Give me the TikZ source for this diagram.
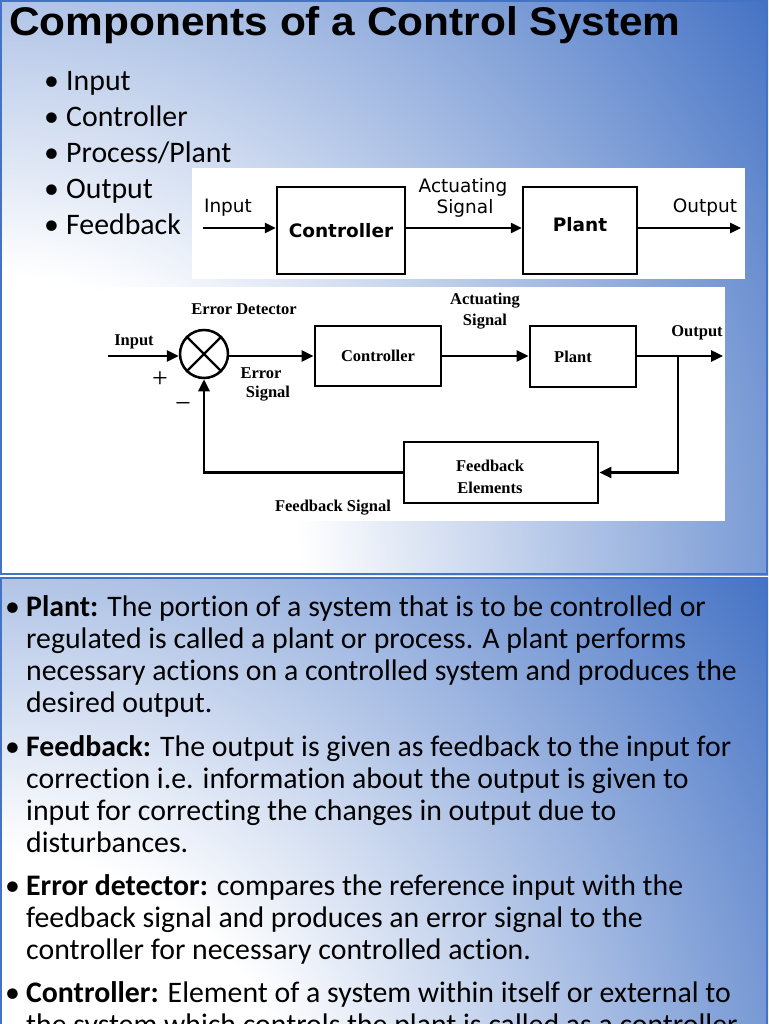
\documentclass[tikz,border=0pt]{standalone}
\usepackage{graphicx}
\usepackage{fontspec}
\setmainfont{Carlito}[Ligatures={NoCommon}]
\newfontfamily\titlefont{Liberation Sans}
\newfontfamily\verdfont{DejaVu Sans}
\newfontfamily\timesfont{Liberation Serif}
\usetikzlibrary{arrows.meta}
\definecolor{accent}{HTML}{4472C4}
\pgfdeclareradialshading{slidebg}{\pgfpointorigin}{color(0bp)=(white); color(7.8bp)=(white); color(25bp)=(accent); color(50bp)=(accent)}
\begin{document}
\begin{tikzpicture}[x=1pt,y=-1pt,
  body/.style={anchor=base west, inner sep=0pt, font=\fontsize{29.8}{32}\selectfont},
  d1txt/.style={inner sep=0pt, font=\verdfont\fontsize{18.5}{22}\selectfont},
  d1box/.style={draw, line width=2.5pt, inner sep=0pt, font=\verdfont\bfseries\fontsize{18.5}{22}\selectfont},
  d1arr/.style={line width=2.5pt, -{Triangle[length=11pt,width=10pt]}},
  d2txt/.style={inner sep=0pt, font=\timesfont\bfseries\fontsize{16.5}{20}\selectfont},
  d2box/.style={draw, line width=2.8pt, inner sep=0pt, font=\timesfont\bfseries\fontsize{16.5}{20}\selectfont},
  d2arr/.style={line width=2.8pt, -{Triangle[length=12pt,width=11pt]}},
  sign/.style={inner sep=0pt, font=\timesfont\fontsize{28}{30}\selectfont}
]
\useasboundingbox (0,0) rectangle (768,1024);
\fill[white] (0,0) rectangle (768,1024);
% ---------- slide 1 background
\begin{scope}
  \clip (0,0) rectangle (768,575);
  \shade[shading=slidebg] (0,575) circle[radius=960pt];
\end{scope}
\draw[accent, line width=2pt] (1,1) rectangle (767,574);
% ---------- slide 2 background
\begin{scope}
  \clip (0,577) rectangle (768,1153);
  \shade[shading=slidebg] (0,1153) circle[radius=960pt];
\end{scope}
\draw[accent, line width=2pt] (1,578) rectangle (767,1152);

% ---------- title and bullets
\node[anchor=base west, inner sep=0pt, font=\titlefont\bfseries\fontsize{40}{44}\selectfont] (title) at (9,36) {\scalebox{1.06}[1]{Components of a Control System}};
\node[body] (b1) at (44,91) {•};  \node[body] (t1) at (66,91) {Input};
\node[body] (b2) at (44,127) {•}; \node[body] (t2) at (66,127) {Controller};
\node[body] (b3) at (44,163) {•}; \node[body] (t3) at (66,163) {Process/Plant};
\node[body] (b4) at (44,199) {•}; \node[body] (t4) at (66,199) {Output};
\node[body] (b5) at (44,235) {•}; \node[body] (t5) at (66,235) {Feedback};

% ---------- diagram 1
\fill[white] (192,168) rectangle (745,279);
\coordinate (in1) at (203,228);
\coordinate (out1) at (741,228);
\node[d1box, minimum width=128pt, minimum height=87pt] (ctrl1) at (341,230.5) {Controller};
\node[d1box, minimum width=114pt, minimum height=87pt, text depth=12pt] (plant1) at (580,230.5) {Plant};
\draw[d1arr] (in1) -- (in1 -| ctrl1.west);
\draw[d1arr] (ctrl1.east |- in1) -- (in1 -| plant1.west);
\draw[d1arr] (plant1.east |- in1) -- (out1);
\node[d1txt] (lin1) at (228,208) {Input};
\node[d1txt] (lact1) at (463,187) {Actuating};
\node[d1txt] (lsig1) at (465,208) {Signal};
\node[d1txt] (lout1) at (705,208) {Output};

% ---------- diagram 2
\fill[white] (107,287) rectangle (725,521);
\coordinate (in2) at (108,356);
\coordinate (out2) at (723,356);
\coordinate (br) at (678,356);
\node[draw, circle, line width=2.5pt, minimum size=48pt, inner sep=0pt] (sum) at (204,354) {};
\draw[line width=2.2pt] (sum.north west) -- (sum.south east);
\draw[line width=2.2pt] (sum.north east) -- (sum.south west);
\node[d2box, minimum width=126pt, minimum height=60pt] (ctrl2) at (378,356) {Controller};
\node[d2box, minimum width=106pt, minimum height=61pt, label={[d2txt, xshift=-10pt]center:Plant}] (plant2) at (583,356.5) {};
\node[d2box, minimum width=194pt, minimum height=61pt, label={[d2txt, align=center, xshift=-11pt, yshift=-4pt]center:Feedback\\[2pt]Elements}] (fb) at (501,472.5) {};
\draw[d2arr] (in2) -- (in2 -| sum.west);
\draw[d2arr] (sum.east |- in2) -- (in2 -| ctrl2.west);
\draw[d2arr] (ctrl2.east |- in2) -- (in2 -| plant2.west);
\draw[d2arr] (plant2.east |- in2) -- (out2);
\draw[d2arr] (br) |- (fb.east);
\draw[d2arr] (fb.west) -| (sum.south);
\node[d2txt] (lin2) at (134,342) {Input};
\node[d2txt] (led) at (244,309) {Error Detector};
\node[d2txt] (lerr) at (261,373) {Error};
\node[d2txt] (lesig) at (268,394) {Signal};
\node[d2txt] (lact2) at (485,301) {Actuating};
\node[d2txt] (lsig2) at (485,322) {Signal};
\node[d2txt] (lout2) at (697,333) {Output};
\node[d2txt] (lfs) at (333,508) {Feedback Signal};
\node[sign] (plus) at (160,380) {+};
\node[sign] (minus) at (183,408) {−};

% ---------- slide 2 text
\node[body] (c1b) at (5,616) {•};
\node[body] (c1) at (26,616) {\textbf{Plant:} The portion of a system that is to be controlled or};
\node[body] (c2) at (26,648) {regulated is called a plant or process. A plant performs};
\node[body] (c3) at (26,680) {necessary actions on a controlled system and produces the};
\node[body] (c4) at (26,712) {desired output.};
\node[body] (c5b) at (5,756) {•};
\node[body] (c5) at (26,756) {\textbf{Feedback:} The output is given as feedback to the input for};
\node[body] (c6) at (26,788) {correction i.e. information about the output is given to};
\node[body] (c7) at (26,820) {input for correcting the changes in output due to};
\node[body] (c8) at (26,852) {disturbances.};
\node[body] (c9b) at (5,895) {•};
\node[body] (c9) at (26,895) {\textbf{Error detector:} compares the reference input with the};
\node[body] (c10) at (26,927) {feedback signal and produces an error signal to the};
\node[body] (c11) at (26,959) {controller for necessary controlled action.};
\node[body] (c12b) at (5,1002) {•};
\node[body] (c12) at (26,1002) {\textbf{Controller:} Element of a system within itself or external to};
\node[body] (c13) at (26,1034) {the system which controls the plant is called as a controller};
\end{tikzpicture}
\end{document}
